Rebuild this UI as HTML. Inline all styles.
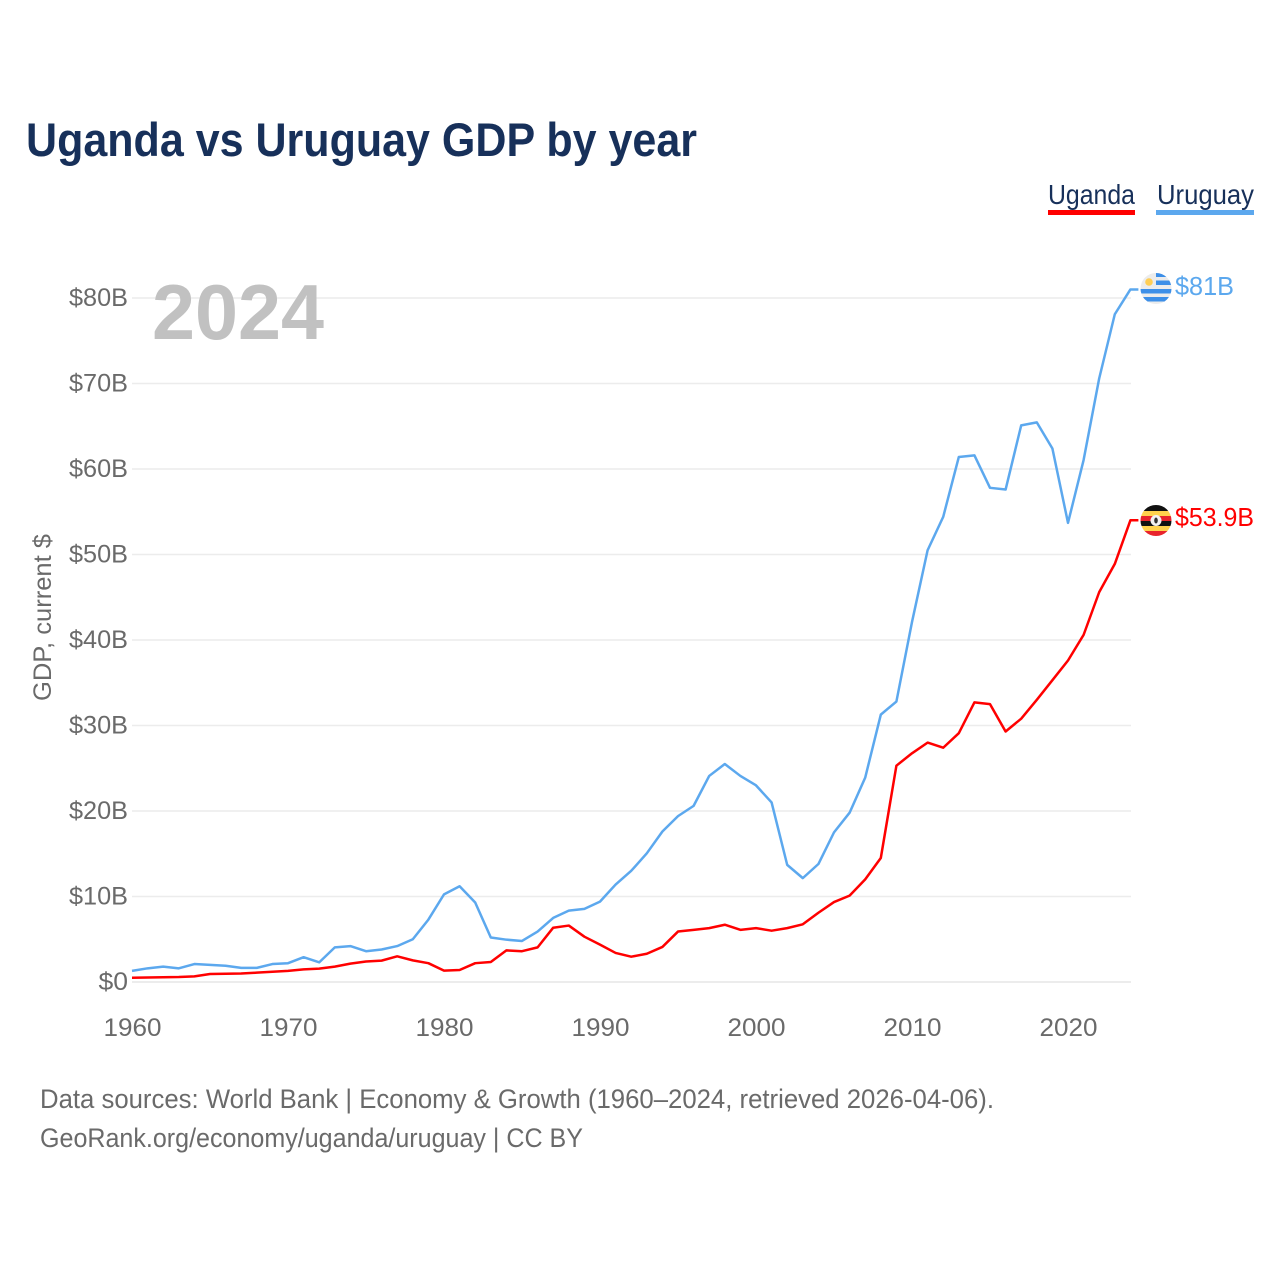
<!DOCTYPE html>
<html lang="en">
<head>
<meta charset="utf-8">
<title>Uganda vs Uruguay GDP by year</title>
<style>
html,body{margin:0;padding:0;background:#fff;width:1280px;height:1280px;overflow:hidden}
svg{display:block;font-family:"Liberation Sans",sans-serif}
</style>
</head>
<body>
<svg id="chart" width="1280" height="1280" viewBox="0 0 1280 1280">
  <defs>
    <clipPath id="uy-clip"><circle cx="1156" cy="288.5" r="15.5"/></clipPath>
    <clipPath id="ug-clip"><circle cx="1156" cy="520.5" r="15.5"/></clipPath>
  </defs>
  <text x="26" y="156" font-size="47" font-weight="700" fill="#17305a" textLength="671" lengthAdjust="spacingAndGlyphs">Uganda vs Uruguay GDP by year</text>

  <g>
    <text x="1048" y="204" font-size="28" fill="#17305a" textLength="87" lengthAdjust="spacingAndGlyphs">Uganda</text>
    <rect x="1048" y="210" width="87" height="5" fill="#ff0000"/>
  </g>
  <g>
    <text x="1157" y="204" font-size="28" fill="#17305a" textLength="97" lengthAdjust="spacingAndGlyphs">Uruguay</text>
    <rect x="1156" y="210" width="98" height="5" fill="#5ca8ee"/>
  </g>

  <g id="grid"></g>
  <g id="y-ticks"></g>
  <g id="x-ticks"></g>

  <text x="152" y="339" font-size="78" font-weight="700" fill="#c1c1c1" textLength="172" lengthAdjust="spacingAndGlyphs">2024</text>

  <text transform="translate(51,701) rotate(-90)" x="0" y="0" font-size="25" fill="#6a6a6a" textLength="167" lengthAdjust="spacingAndGlyphs">GDP, current $</text>

  <g id="series"></g>

  <g clip-path="url(#uy-clip)">
    <rect x="1140" y="273" width="32" height="32" fill="#ececec"/>
    <rect x="1156" y="273" width="16" height="4" fill="#3d8fe8"/>
    <rect x="1156" y="280.5" width="16" height="4.5" fill="#3d8fe8"/>
    <rect x="1140" y="289" width="32" height="4.5" fill="#3d8fe8"/>
    <rect x="1140" y="297" width="32" height="4.5" fill="#3d8fe8"/>
    <circle cx="1149" cy="282" r="3.8" fill="#ffce54"/>
  </g>
  <g clip-path="url(#ug-clip)">
    <rect x="1140" y="505" width="32" height="6" fill="#111111"/>
    <rect x="1140" y="511" width="32" height="5" fill="#ffd24d"/>
    <rect x="1140" y="516" width="32" height="5" fill="#e8242c"/>
    <rect x="1140" y="521" width="32" height="5" fill="#111111"/>
    <rect x="1140" y="526" width="32" height="5" fill="#ffd24d"/>
    <rect x="1140" y="531" width="32" height="6" fill="#e8242c"/>
    <circle cx="1156" cy="520.5" r="5.5" fill="#f2f2f2"/>
    <ellipse cx="1156" cy="520.5" rx="1.8" ry="3" fill="#333333"/>
  </g>

  <text x="1175" y="295" font-size="26" fill="#5ca8ee" textLength="59" lengthAdjust="spacingAndGlyphs">$81B</text>
  <text x="1175" y="526" font-size="26" fill="#ff0000" textLength="79" lengthAdjust="spacingAndGlyphs">$53.9B</text>

  <text x="40" y="1108" font-size="27" fill="#6a6a6a" textLength="954" lengthAdjust="spacingAndGlyphs">Data sources: World Bank | Economy &amp; Growth (1960–2024, retrieved 2026-04-06).</text>
  <a><text x="40" y="1147" font-size="27" fill="#6a6a6a" textLength="543" lengthAdjust="spacingAndGlyphs">GeoRank.org/economy/uganda/uruguay | CC BY</text></a>
</svg>
<script>
const years = [1960,1961,1962,1963,1964,1965,1966,1967,1968,1969,1970,1971,1972,1973,1974,1975,1976,1977,1978,1979,1980,1981,1982,1983,1984,1985,1986,1987,1988,1989,1990,1991,1992,1993,1994,1995,1996,1997,1998,1999,2000,2001,2002,2003,2004,2005,2006,2007,2008,2009,2010,2011,2012,2013,2014,2015,2016,2017,2018,2019,2020,2021,2022,2023,2024];
const uruguay = [1.3,1.6,1.8,1.6,2.1,2.0,1.9,1.65,1.65,2.1,2.2,2.9,2.3,4.05,4.2,3.6,3.8,4.2,5.0,7.3,10.25,11.2,9.3,5.2,4.95,4.8,5.9,7.5,8.35,8.55,9.4,11.4,13.0,15.05,17.6,19.4,20.6,24.1,25.5,24.1,23.0,21.0,13.7,12.15,13.8,17.5,19.8,23.9,31.27,32.8,42.1,50.5,54.4,61.4,61.6,57.8,57.6,65.1,65.45,62.4,53.7,61.05,70.6,78.1,81.0];
const uganda = [0.5,0.52,0.55,0.58,0.66,0.94,0.97,1.0,1.09,1.2,1.3,1.48,1.56,1.8,2.15,2.4,2.5,3.0,2.53,2.2,1.33,1.4,2.2,2.34,3.7,3.6,4.05,6.35,6.6,5.3,4.37,3.4,2.96,3.3,4.1,5.9,6.1,6.3,6.7,6.1,6.3,6.0,6.3,6.75,8.1,9.35,10.1,12.0,14.5,25.3,26.75,28.0,27.4,29.1,32.7,32.5,29.3,30.8,33.0,35.3,37.6,40.6,45.6,48.9,54.0];
const yTickValues = [0,10,20,30,40,50,60,70,80];
const yTickLabels = ["$0","$10B","$20B","$30B","$40B","$50B","$60B","$70B","$80B"];
const xTickValues = [1960,1970,1980,1990,2000,2010,2020];

const NS = 'http://www.w3.org/2000/svg';
const xScale = function (year) { return 132 + (year - 1960) * 15.6; };
const yScale = function (value) { return 982 - value * 8.55; };

const grid = document.getElementById('grid');
const yTicks = document.getElementById('y-ticks');
const xTicks = document.getElementById('x-ticks');
const seriesGroup = document.getElementById('series');

yTickValues.forEach(function (value, i) {
  const line = document.createElementNS(NS, 'line');
  line.setAttribute('x1', 132);
  line.setAttribute('x2', 1131);
  line.setAttribute('y1', yScale(value));
  line.setAttribute('y2', yScale(value));
  line.setAttribute('stroke', '#ececec');
  line.setAttribute('stroke-width', value === 0 ? 2 : 1.6);
  
  
  grid.appendChild(line);

  const label = document.createElementNS(NS, 'text');
  label.textContent = yTickLabels[i];
  label.setAttribute('x', 128);
  label.setAttribute('y', yScale(value) + 8);
  label.setAttribute('text-anchor', 'end');
  label.setAttribute('font-size', 25);
  label.setAttribute('fill', '#6a6a6a');
  label.setAttribute('textLength', yTickLabels[i].length * 14.75);
  label.setAttribute('lengthAdjust', 'spacingAndGlyphs');
  
  
  yTicks.appendChild(label);
});

xTickValues.forEach(function (year) {
  const label = document.createElementNS(NS, 'text');
  label.textContent = String(year);
  label.setAttribute('x', xScale(year) + 0.5);
  label.setAttribute('y', 1036);
  label.setAttribute('text-anchor', 'middle');
  label.setAttribute('font-size', 25);
  label.setAttribute('fill', '#6a6a6a');
  label.setAttribute('textLength', 58);
  label.setAttribute('lengthAdjust', 'spacingAndGlyphs');
  
  
  xTicks.appendChild(label);
});

function buildPoints(values) {
  const pts = values.map(function (value, i) {
    return xScale(years[i]).toFixed(2) + ',' + yScale(value).toFixed(2);
  });
  const last = values[values.length - 1];
  pts.push((xScale(years[years.length - 1]) + 8).toFixed(2) + ',' + yScale(last).toFixed(2));
  return pts.join(' ');
}

const uruguayLine = document.createElementNS(NS, 'polyline');
uruguayLine.setAttribute('points', buildPoints(uruguay));
uruguayLine.setAttribute('fill', 'none');
uruguayLine.setAttribute('stroke', '#5ca8ee');
uruguayLine.setAttribute('stroke-width', 2.5);
uruguayLine.setAttribute('stroke-linejoin', 'round');


seriesGroup.appendChild(uruguayLine);

const ugandaLine = document.createElementNS(NS, 'polyline');
ugandaLine.setAttribute('points', buildPoints(uganda));
ugandaLine.setAttribute('fill', 'none');
ugandaLine.setAttribute('stroke', '#ff0000');
ugandaLine.setAttribute('stroke-width', 2.5);
ugandaLine.setAttribute('stroke-linejoin', 'round');


seriesGroup.appendChild(ugandaLine);
</script>
</body>
</html>
